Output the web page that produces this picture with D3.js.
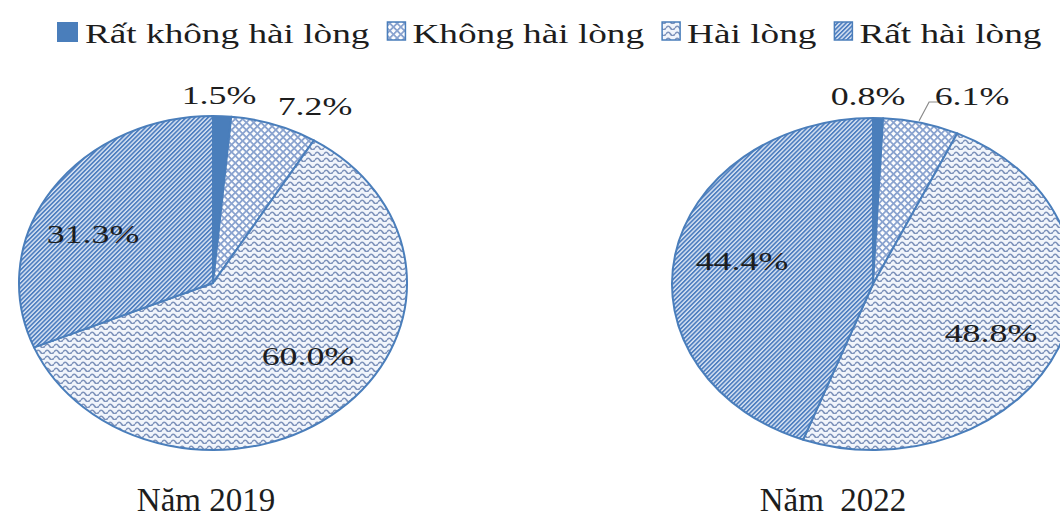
<!DOCTYPE html>
<html lang="vi">
<head>
<meta charset="utf-8">
<script src="https://cdn.jsdelivr.net/npm/d3@7"></script>
<style>
  html, body { margin: 0; padding: 0; background: #fff; }
  svg { display: block; }
  text { font-family: "Liberation Serif", "Times New Roman", serif; fill: #1d1d1d; }
</style>
</head>
<body>
<svg id="chart" width="1060" height="519"></svg>
<script>
// Mức độ hài lòng (%) theo năm
const categories = ["Rất không hài lòng", "Không hài lòng", "Hài lòng", "Rất hài lòng"];
const years = ["Năm 2019", "Năm  2022"];
const values2019 = [1.5, 7.2, 60.0, 31.3];
const values2022 = [0.8, 6.1, 48.8, 44.4];

const blue = "#4a7ebb";
const svg = d3.select("#chart");
const defs = svg.append("defs");

// Fill patterns for each category
// diagonal cross grid
const pCross = defs.append("pattern").attr("id", "p-cross")
  .attr("patternUnits", "userSpaceOnUse").attr("width", 5.2).attr("height", 5.2)
  .attr("patternTransform", "rotate(45)");
pCross.append("rect").attr("width", 5.2).attr("height", 5.2).attr("fill", "#ffffff");
pCross.append("rect").attr("width", 1.8).attr("height", 5.2).attr("fill", "#8aa3cf");
pCross.append("rect").attr("width", 5.2).attr("height", 1.8).attr("fill", "#8aa3cf");
// waves
const pWave = defs.append("pattern").attr("id", "p-wave")
  .attr("patternUnits", "userSpaceOnUse").attr("width", 9).attr("height", 6);
pWave.append("rect").attr("width", 9).attr("height", 6).attr("fill", "#f1f5fb");
pWave.append("path").attr("d", "M0,4 Q2.25,0.5 4.5,4 T9,4")
  .attr("fill", "none").attr("stroke", "#7d92ba").attr("stroke-width", 1.6);
// dense upward diagonals
const pDiag = defs.append("pattern").attr("id", "p-diag")
  .attr("patternUnits", "userSpaceOnUse").attr("width", 3.1).attr("height", 6)
  .attr("patternTransform", "rotate(45)");
pDiag.append("rect").attr("width", 3.1).attr("height", 6).attr("fill", "#d9e4f3");
pDiag.append("rect").attr("width", 1.7).attr("height", 6).attr("fill", "#4f7fc0");

const fills = [blue, "url(#p-cross)", "url(#p-wave)", "url(#p-diag)"];
const color = d3.scaleOrdinal().domain(categories).range(fills);

// Legend along the top; glyphs are drawn wide like the source type
const legendFont = 27, legendSX = 1.38;
const legend = svg.append("g").attr("class", "legend");
let lx = 57;
categories.forEach((c, i) => {
  const sw = i === 0 ? 21 : 18;
  legend.append("rect")
    .attr("x", lx).attr("y", 22).attr("width", sw).attr("height", i === 0 ? 20 : 18)
    .attr("fill", color(c))
    .attr("stroke", i === 0 ? "none" : blue).attr("stroke-width", 1.5);
  lx += sw + 7;
  const t = legend.append("text")
    .attr("transform", `translate(${lx},43) scale(${legendSX},1)`)
    .attr("font-size", legendFont)
    .text(c);
  lx += t.node().getComputedTextLength() * legendSX + 18;
});

// Elliptical pie wedges from d3.pie angles
const pie = d3.pie().sort(null).value(d => d.v);

function wedge(cx, cy, rx, ry, a0, a1) {
  const p = a => [cx + rx * Math.sin(a), cy - ry * Math.cos(a)];
  const [x0, y0] = p(a0), [x1, y1] = p(a1);
  const large = (a1 - a0) > Math.PI ? 1 : 0;
  return `M${cx},${cy}L${x0},${y0}A${rx},${ry} 0 ${large} 1 ${x1},${y1}Z`;
}

// label anchors (centre, baseline) for each pie
const labelFont = 26, labelSX = 1.38;
const charts = [
  { values: values2019, title: years[0], cx: 213, cy: 283, rx: 194, ry: 167, titleX: 206,
    labels: [[219, 104], [315, 115], [308, 365], [93, 243]], leader: null },
  { values: values2022, title: years[1], cx: 873, cy: 284, rx: 201, ry: 166, titleX: 833,
    labels: [[868, 105], [972, 105], [991, 342], [742, 270]], leader: 1 }
];

charts.forEach(ch => {
  const g = svg.append("g");
  const arcs = pie(ch.values.map((v, i) => ({ v, c: categories[i] })));

  g.selectAll("path.slice").data(arcs).join("path")
    .attr("class", "slice")
    .attr("d", d => wedge(ch.cx, ch.cy, ch.rx, ch.ry, d.startAngle, d.endAngle))
    .attr("fill", d => color(d.data.c))
    .attr("stroke", blue).attr("stroke-width", 2).attr("stroke-linejoin", "round");

  if (ch.leader !== null) {
    const a = arcs[ch.leader];
    const m = (a.startAngle + a.endAngle) / 2;
    const ex = ch.cx + ch.rx * Math.sin(m), ey = ch.cy - ch.ry * Math.cos(m);
    const [lx2, ly2] = ch.labels[ch.leader];
    g.append("polyline")
      .attr("points", `${ex - 2},${ey - 2} ${ex + 8},${ly2 - 3} ${lx2 - 33},${ly2 - 3}`)
      .attr("fill", "none").attr("stroke", "#8a8a8a").attr("stroke-width", 1.2);
  }

  g.selectAll("text.lbl").data(arcs).join("text")
    .attr("class", "lbl")
    .attr("transform", (d, i) => `translate(${ch.labels[i][0]},${ch.labels[i][1]}) scale(${labelSX},1)`)
    .attr("text-anchor", "middle")
    .attr("font-size", labelFont)
    .text(d => d3.format(".1f")(d.data.v) + "%");

  svg.append("text")
    .attr("x", ch.titleX).attr("y", 511)
    .attr("text-anchor", "middle")
    .attr("font-size", 33)
    .attr("xml:space", "preserve")
    .style("white-space", "pre")
    .text(ch.title);
});
</script>
</body>
</html>
